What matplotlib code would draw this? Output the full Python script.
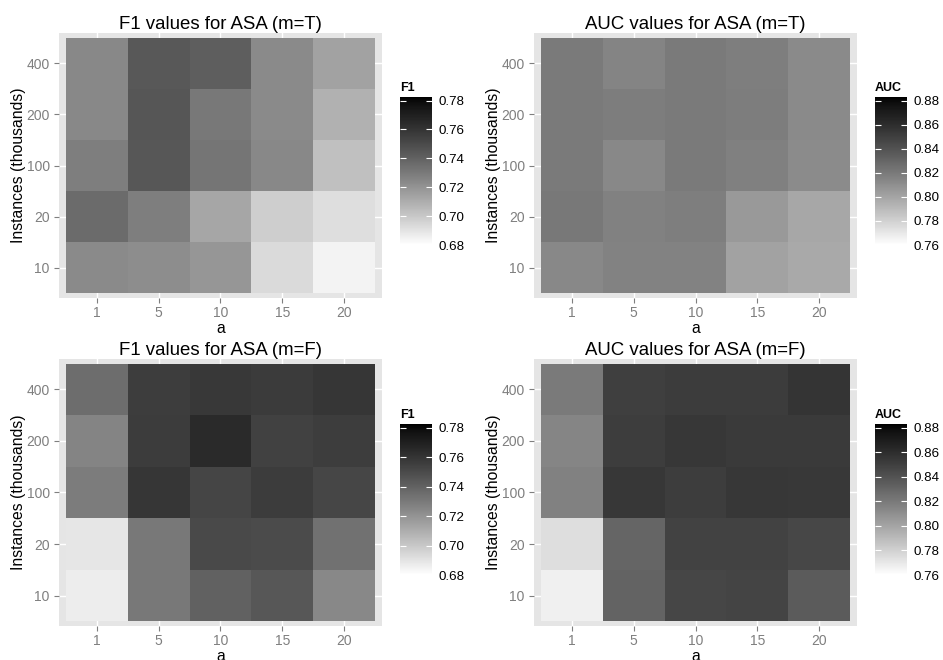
import numpy as np
import matplotlib
matplotlib.use("Agg")
import matplotlib.pyplot as plt
from matplotlib.colors import ListedColormap

plt.rcParams['font.family'] = ['Liberation Sans', 'DejaVu Sans']

a_labels = ["1", "5", "10", "15", "20"]
instance_labels = ["10", "20", "100", "200", "400"]

# rows follow instance_labels (10 at the bottom), columns follow a_labels
f1_mT = [
    [0.7234, 0.7222, 0.7191, 0.6934, 0.6846],
    [0.7362, 0.7281, 0.7126, 0.6977, 0.6920],
    [0.7281, 0.7445, 0.7317, 0.7241, 0.7029],
    [0.7241, 0.7449, 0.7305, 0.7234, 0.7088],
    [0.7241, 0.7441, 0.7416, 0.7234, 0.7141],
]
auc_mT = [
    [0.8129, 0.8158, 0.8158, 0.8013, 0.7976],
    [0.8206, 0.8166, 0.8181, 0.8053, 0.7989],
    [0.8196, 0.8129, 0.8200, 0.8171, 0.8115],
    [0.8196, 0.8186, 0.8196, 0.8186, 0.8120],
    [0.8196, 0.8148, 0.8196, 0.8181, 0.8120],
]
f1_mF = [
    [0.6866, 0.7305, 0.7403, 0.7445, 0.7241],
    [0.6891, 0.7305, 0.7505, 0.7497, 0.7338],
    [0.7289, 0.7591, 0.7524, 0.7568, 0.7520],
    [0.7258, 0.7564, 0.7651, 0.7541, 0.7559],
    [0.7354, 0.7559, 0.7581, 0.7572, 0.7591],
]
auc_mF = [
    [0.7665, 0.8313, 0.8463, 0.8473, 0.8353],
    [0.7742, 0.8303, 0.8488, 0.8488, 0.8458],
    [0.8163, 0.8543, 0.8510, 0.8543, 0.8537],
    [0.8143, 0.8510, 0.8543, 0.8532, 0.8532],
    [0.8196, 0.8499, 0.8521, 0.8521, 0.8565],
]

f1_limits = (0.68, 0.7825)
auc_limits = (0.76, 0.883)
f1_ticks = [0.68, 0.70, 0.72, 0.74, 0.76, 0.78]
auc_ticks = [0.76, 0.78, 0.80, 0.82, 0.84, 0.86, 0.88]


def grey_cmap():
    # blanco -> negro, lineal en L* (como el gradiente de ggplot)
    L = np.linspace(100, 0, 256)
    fy = (L + 16) / 116
    Y = np.where(L > 8, fy ** 3, L / 903.3)
    s = np.where(Y <= 0.0031308, 12.92 * Y, 1.055 * Y ** (1 / 2.4) - 0.055)
    s = np.clip(s, 0, 1)
    return ListedColormap(np.column_stack([s, s, s]))


cmap = grey_cmap()
fig = plt.figure(figsize=(9.43, 6.6), dpi=100)


def draw_heat(rect, values, limits, title):
    ax = fig.add_axes(rect)
    ax.set_facecolor('#E5E5E5')
    edges = np.arange(6) - 0.5
    mesh = ax.pcolormesh(edges, edges, np.array(values), cmap=cmap,
                         vmin=limits[0], vmax=limits[1])
    ax.set_xlim(-0.605, 4.605)
    ax.set_ylim(-0.59, 4.59)
    ax.set_xticks(range(5))
    ax.set_xticklabels(a_labels)
    ax.set_yticks(range(5))
    ax.set_yticklabels(instance_labels)
    ax.grid(True, color='white', linewidth=1.0)
    ax.set_axisbelow(True)
    for sp in ax.spines.values():
        sp.set_visible(False)
    ax.tick_params(colors='#7F7F7F', labelcolor='#7F7F7F', labelsize=10,
                   length=3.6, width=0.8)
    ax.tick_params(axis='x', pad=2.2)
    ax.tick_params(axis='y', pad=3)
    ax.set_title(title, fontsize=13.4, pad=3)
    ax.set_xlabel("a", fontsize=11.3, labelpad=0.5)
    ax.set_ylabel("Instances (thousands)", fontsize=11.3, labelpad=0.5)
    return mesh


def draw_bar(rect, mesh, ticks, title):
    cax = fig.add_axes(rect)
    cb = fig.colorbar(mesh, cax=cax)
    cb.outline.set_visible(False)
    cb.set_ticks(ticks)
    cb.set_ticklabels([f"{t:.2f}" for t in ticks])
    cax.tick_params(length=0, pad=5, labelsize=9.6)
    tr = cax.get_yaxis_transform()
    cax.hlines(ticks, 0, 0.2, color='white', lw=0.8, transform=tr)
    cax.hlines(ticks, 0.8, 1, color='white', lw=0.8, transform=tr)
    cax.set_title(title, loc='left', fontsize=9, fontweight='bold', pad=4)


W, H = 943, 660


def rect(x0, y0, x1, y1):
    return [x0 / W, (H - y1) / H, (x1 - x0) / W, (y1 - y0) / H]


m = draw_heat(rect(59, 33, 382, 298), f1_mT, f1_limits, "F1 values for ASA (m=T)")
draw_bar(rect(400, 97, 432, 245), m, f1_ticks, "F1")
m = draw_heat(rect(534, 33, 857, 298), auc_mT, auc_limits, "AUC values for ASA (m=T)")
draw_bar(rect(875, 97, 907, 245), m, auc_ticks, "AUC")
m = draw_heat(rect(59, 359, 382, 626), f1_mF, f1_limits, "F1 values for ASA (m=F)")
draw_bar(rect(400, 424, 432, 575), m, f1_ticks, "F1")
m = draw_heat(rect(534, 359, 857, 626), auc_mF, auc_limits, "AUC values for ASA (m=F)")
draw_bar(rect(875, 424, 907, 575), m, auc_ticks, "AUC")

fig.savefig("out.png", dpi=100)
